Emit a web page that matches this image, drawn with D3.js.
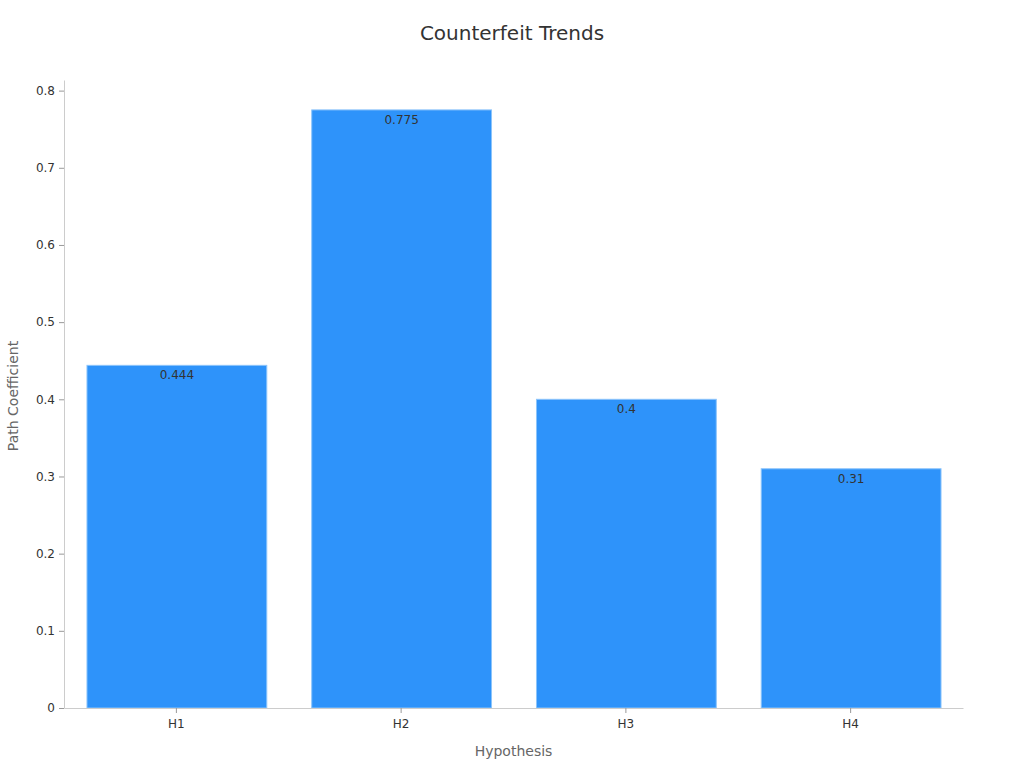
<!DOCTYPE html>
<html>
<head>
<meta charset="utf-8">
<script src="https://cdn.jsdelivr.net/npm/d3@7"></script>
<style>
  body { margin: 0; background: #fff; }
  svg { font-family: "DejaVu Sans", sans-serif; }
</style>
</head>
<body>
<div id="plot"></div>
<script>
// Chart data
const categories = ["H1", "H2", "H3", "H4"];
const values = [0.444, 0.775, 0.4, 0.31];
const yTicks = [0, 0.1, 0.2, 0.3, 0.4, 0.5, 0.6, 0.7, 0.8];

const width = 1024, height = 768;
const margin = { top: 80, right: 61, bottom: 60, left: 64 };

const svg = d3.select("#plot").append("svg")
  .attr("width", width)
  .attr("height", height);

// Scales
const xScale = d3.scaleBand()
  .domain(categories)
  .range([margin.left, width - margin.right])
  .paddingInner(0.2)
  .paddingOuter(0.1);

const yScale = d3.scaleLinear()
  .domain([0, d3.max(values) * 1.05])
  .range([height - margin.bottom, margin.top]);

// Title
svg.append("text")
  .attr("x", width / 2)
  .attr("y", 40)
  .attr("text-anchor", "middle")
  .attr("font-size", 20)
  .attr("fill", "#333")
  .text("Counterfeit Trends");

// Bars
svg.selectAll(".bar")
  .data(values)
  .join("rect")
  .attr("class", "bar")
  .attr("x", (d, i) => xScale(categories[i]) + 0.5)
  .attr("y", d => yScale(d))
  .attr("width", xScale.bandwidth())
  .attr("height", d => yScale(0) - yScale(d))
  .attr("fill", "#2E93FA")
  .attr("stroke", "#8cc4fb")
  .attr("stroke-width", 1);

// Value labels
svg.selectAll(".label")
  .data(values)
  .join("text")
  .attr("class", "label")
  .attr("x", (d, i) => xScale(categories[i]) + xScale.bandwidth() / 2 + 0.5)
  .attr("y", d => yScale(d) + 14)
  .attr("text-anchor", "middle")
  .attr("font-size", 12)
  .attr("fill", "#333")
  .text(d => d);

// Axes
const xAxis = svg.append("g")
  .attr("transform", `translate(0, ${height - margin.bottom})`)
  .call(d3.axisBottom(xScale).tickSize(5).tickPadding(6).tickSizeOuter(0));

const yAxis = svg.append("g")
  .attr("transform", `translate(${margin.left}, 0)`)
  .call(d3.axisLeft(yScale).tickValues(yTicks).tickSize(5).tickPadding(4).tickSizeOuter(0)
    .tickFormat(d => d === 0 ? "0" : d3.format(".1f")(d)));

[xAxis, yAxis].forEach(g => {
  g.select(".domain").attr("stroke", "#ccc");
  g.selectAll(".tick line").attr("stroke", "#999");
  g.selectAll(".tick text")
    .attr("fill", "#333")
    .attr("font-size", 12)
    .attr("font-family", "DejaVu Sans, sans-serif");
});

// Axis titles
svg.append("text")
  .attr("x", (margin.left + width - margin.right) / 2)
  .attr("y", 756)
  .attr("text-anchor", "middle")
  .attr("font-size", 14)
  .attr("fill", "#666")
  .text("Hypothesis");

svg.append("text")
  .attr("transform", `translate(18, ${(margin.top + height - margin.bottom) / 2 + 2}) rotate(-90)`)
  .attr("text-anchor", "middle")
  .attr("font-size", 14)
  .attr("fill", "#666")
  .text("Path Coefficient");
</script>
</body>
</html>
